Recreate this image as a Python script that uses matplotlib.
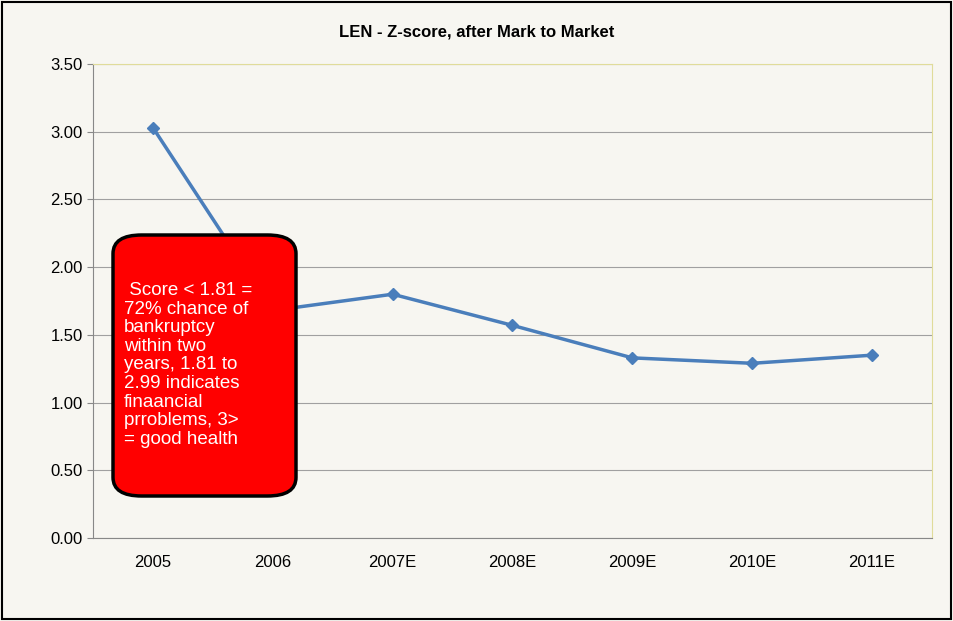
import matplotlib
matplotlib.use("Agg")
import matplotlib.pyplot as plt
from matplotlib.patches import FancyBboxPatch, Rectangle

years = ["2005", "2006", "2007E", "2008E", "2009E", "2010E", "2011E"]
zscore = [3.03, 1.68, 1.80, 1.57, 1.33, 1.29, 1.35]
yticks = [0.0, 0.5, 1.0, 1.5, 2.0, 2.5, 3.0, 3.5]

plt.rcParams['font.family'] = ['Liberation Sans', 'DejaVu Sans']
fig = plt.figure(figsize=(9.54, 6.21), dpi=100)
fig.patch.set_facecolor('#f7f6f1')
fig.patches.append(Rectangle((0.002, 0.003), 0.995, 0.993, transform=fig.transFigure,
                             fill=False, edgecolor='black', linewidth=1.5))
ax = fig.add_axes([93/954, 1-538/621, (932-93)/954, (538-64)/621])
ax.set_facecolor('#f7f6f1')
x = list(range(len(years)))
ax.plot(x, zscore, color='#4a7ebb', linewidth=2.5, marker='D', markersize=6, zorder=3)
ax.set_xlim(-0.5, len(years)-0.5)
ax.set_ylim(0, 3.5)
ax.set_yticks(yticks)
ax.set_yticklabels([f"{v:.2f}" for v in yticks], fontsize=12)
ax.set_xticks(x)
ax.set_xticklabels(years, fontsize=12)
ax.grid(axis='y', color='#a0a0a0', linewidth=0.8)
ax.set_axisbelow(True)
for s in ['top', 'right']:
    ax.spines[s].set_color('#e0dc9a')
for s in ['left', 'bottom']:
    ax.spines[s].set_color('#888888')
ax.tick_params(axis='x', length=0, pad=12)
ax.tick_params(axis='y', length=4, color='#888888')
fig.text(0.5, 1-32/621, "LEN - Z-score, after Mark to Market", ha='center', va='center',
         fontsize=12, fontweight='bold')
box = FancyBboxPatch((113/954, 1-496/621), (296-113)/954, (496-235)/621,
                     boxstyle="round,pad=0,rounding_size=0.03", transform=fig.transFigure,
                     facecolor='#ff0000', edgecolor='black', linewidth=2.5, zorder=5)
fig.patches.append(box)
fig.text(124/954, 1-365/621,
         " Score < 1.81 =\n72% chance of\nbankruptcy\nwithin two\nyears, 1.81 to\n2.99 indicates\nfinaancial\nprroblems, 3>\n= good health",
         ha='left', va='center', color='white', fontsize=13.5, linespacing=1.12, zorder=6)
fig.savefig("out.png", dpi=100, facecolor=fig.get_facecolor())
